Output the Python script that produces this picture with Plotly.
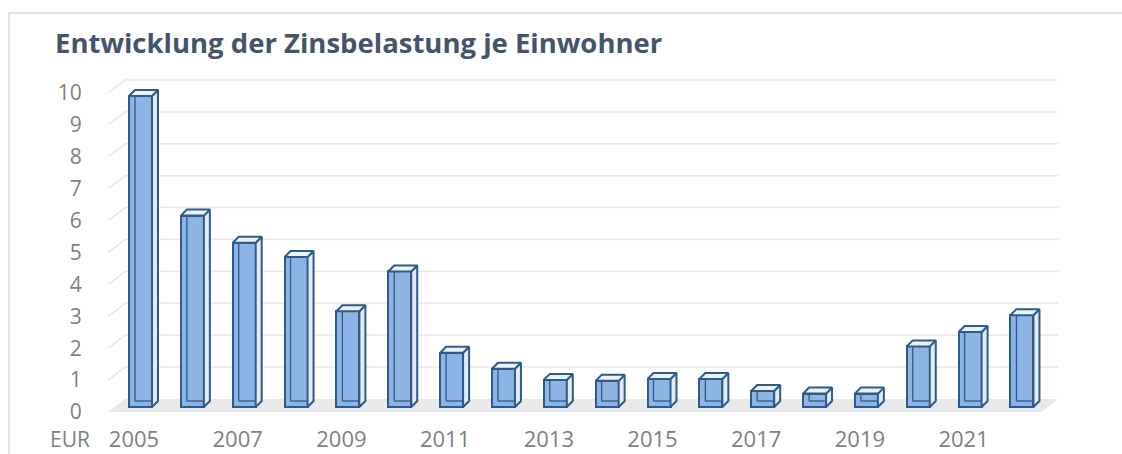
import plotly.graph_objects as go

# ---------------- data ----------------
years = [2005, 2006, 2007, 2008, 2009, 2010, 2011, 2012, 2013, 2014,
         2015, 2016, 2017, 2018, 2019, 2020, 2021, 2022]
values = [9.75, 6.0, 5.15, 4.7, 3.0, 4.25, 1.7, 1.2, 0.85, 0.82,
          0.88, 0.88, 0.5, 0.42, 0.42, 1.9, 2.35, 2.88]
y_ticks = [0, 1, 2, 3, 4, 5, 6, 7, 8, 9, 10]
x_ticks = [2005, 2007, 2009, 2011, 2013, 2015, 2017, 2019, 2021]
title_text = "Entwicklung der Zinsbelastung je Einwohner"
unit_label = "EUR"

# ---------------- style / projection ----------------
W, H = 1122, 454
ml, mr, mt, mb = 108, 61, 70, 34
px_per_year = 51.85
px_per_unit = 31.9
x_range = [years[0] - 26 / px_per_year, years[0] + (W - mr - ml - 26) / px_per_year]
y_range = [-(H - mb - 412) / px_per_unit, (412 - mt) / px_per_unit]

floor_dx = 17 / px_per_year   # depth of floor (x units)
floor_dy = 13 / px_per_unit   # depth of floor (y units)
bar_dx = 6.5 / px_per_year    # bar front-face position within depth
bar_dy = 5 / px_per_unit
bar_w = 23 / px_per_year
bar_ddx = 6 / px_per_year     # bar depth
bar_ddy = 6 / px_per_unit

edge = "#2D5B8C"
front_fill = "#8DB4E2"
side_fill = "#E3EBF5"
top_fill = "#EEF3FA"
grid_col = "#E8E8E8"
floor_col = "#E9E9E9"
label_col = "#7F7F7F"

x_lo = years[0] - 0.5
x_hi = years[-1] + 0.5

fig = go.Figure()

# front faces (bars)
fig.add_trace(go.Bar(
    x=years, y=values, base=[bar_dy] * len(years),
    width=bar_w, offset=bar_dx - bar_w / 2,
    marker=dict(color=front_fill, line=dict(color=edge, width=2)),
    hoverinfo="skip", showlegend=False,
))

# side faces, top faces, inner (see-through) edges
sx, sy, tx, ty, ix, iy = [], [], [], [], [], []
for yr, v in zip(years, values):
    xl = yr + bar_dx - bar_w / 2
    xr = yr + bar_dx + bar_w / 2
    b = bar_dy
    t = bar_dy + v
    sx += [xr, xr + bar_ddx, xr + bar_ddx, xr, xr, None]
    sy += [b, b + bar_ddy, t + bar_ddy, t, b, None]
    tx += [xl, xr, xr + bar_ddx, xl + bar_ddx, xl, None]
    ty += [t, t, t + bar_ddy, t + bar_ddy, t, None]
    ix += [xl + bar_ddx, xl + bar_ddx, None, xl + bar_ddx, xr + bar_ddx, None]
    iy += [t + bar_ddy, b + bar_ddy, None, b + bar_ddy, b + bar_ddy, None]

fig.add_trace(go.Scatter(x=ix, y=iy, mode="lines",
                         line=dict(color=edge, width=1.3),
                         hoverinfo="skip", showlegend=False))
fig.add_trace(go.Scatter(x=sx, y=sy, mode="lines", fill="toself",
                         fillcolor=side_fill, line=dict(color=edge, width=2),
                         hoverinfo="skip", showlegend=False))
fig.add_trace(go.Scatter(x=tx, y=ty, mode="lines", fill="toself",
                         fillcolor=top_fill, line=dict(color=edge, width=2),
                         hoverinfo="skip", showlegend=False))

# floor and back-wall gridlines (below the bars)
shapes = []
shapes.append(dict(
    type="path", layer="below", xref="x", yref="y",
    path=(f"M{x_lo},0 L{x_hi},0 L{x_hi + floor_dx},{floor_dy} "
          f"L{x_lo + floor_dx},{floor_dy} Z"),
    fillcolor=floor_col, line=dict(width=0),
))
for tv in y_ticks[1:]:
    shapes.append(dict(
        type="path", layer="below", xref="x", yref="y",
        path=(f"M{x_lo},{tv} L{x_lo + floor_dx},{tv + floor_dy} "
              f"L{x_hi + floor_dx},{tv + floor_dy}"),
        line=dict(color=grid_col, width=1.5),
    ))

# outer frame
plot_h = H - mt - mb
plot_w = W - ml - mr
shapes.append(dict(
    type="rect", xref="paper", yref="paper", layer="below",
    x0=(9 - ml) / plot_w, x1=(W + 10 - ml) / plot_w,
    y0=-(mb + 10) / plot_h, y1=(H - mb - 13) / plot_h,
    line=dict(color="#D9D9D9", width=1.5), fillcolor="rgba(0,0,0,0)",
))

fig.update_layout(
    width=W, height=H, autosize=False,
    margin=dict(l=ml, r=mr, t=mt, b=mb, autoexpand=False),
    paper_bgcolor="white", plot_bgcolor="white",
    shapes=shapes,
    title=dict(text=title_text, x=55 / W, xanchor="left", xref="container",
               y=1 - 43 / H, yanchor="middle", yref="container",
               font=dict(family="Open Sans", size=27.5, color="#44546A", weight=700)),
    xaxis=dict(range=x_range, tickvals=x_ticks, ticktext=[str(v) for v in x_ticks],
               showgrid=False, zeroline=False, showline=False, automargin=False,
               ticks="outside", ticklen=0, tickcolor="rgba(0,0,0,0)",
               tickfont=dict(family="Open Sans", size=22, color=label_col)),
    yaxis=dict(range=y_range, tickvals=y_ticks, ticktext=[str(v) for v in y_ticks],
               showgrid=False, zeroline=False, showline=False, automargin=False,
               ticks="outside", ticklen=21, tickcolor="rgba(0,0,0,0)",
               tickfont=dict(family="Open Sans", size=21, color=label_col)),
    annotations=[dict(text=unit_label, xref="paper", yref="paper",
                      x=(92 - ml) / plot_w, xanchor="right",
                      y=-(439.5 - (H - mb)) / plot_h, yanchor="middle",
                      showarrow=False,
                      font=dict(family="Open Sans", size=21, color=label_col))],
    bargap=0,
)

fig.write_html("out.html", config={"displayModeBar": False},
               post_script="document.body.style.margin='0';document.body.style.overflow='hidden';")
